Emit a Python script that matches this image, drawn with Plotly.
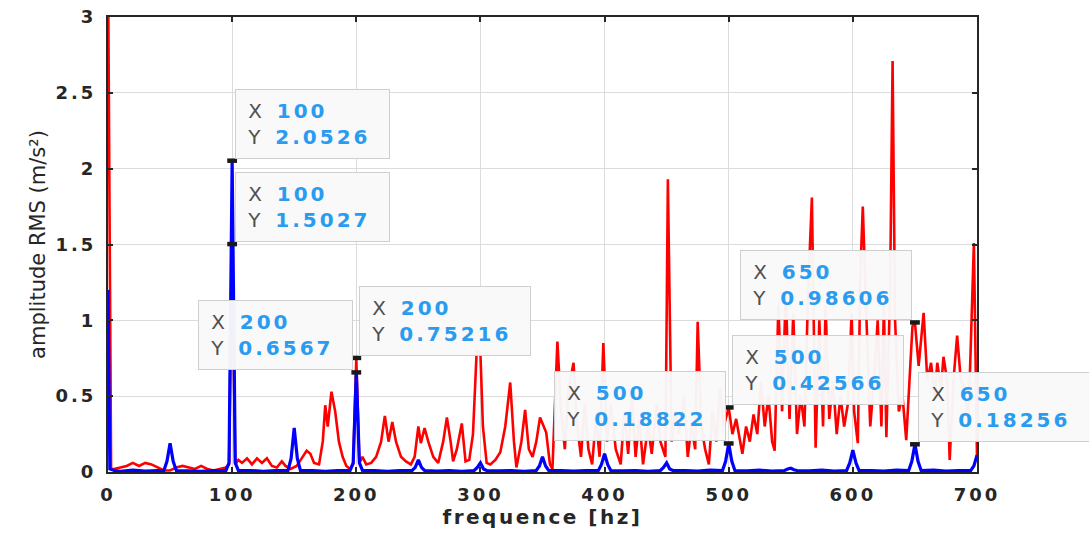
import plotly.graph_objects as go

# ---------------- data ----------------
red_freq = [0, 2.5, 5, 10, 15, 20, 25, 30, 35, 40, 45, 50, 55, 60, 65, 70, 75, 80, 85, 90, 95, 97.5,
            100, 102.5, 105, 108, 112, 116, 120, 124, 128, 132, 136, 140, 143, 147, 152, 156, 160, 163,
            166, 170, 173, 175, 177, 180, 183, 186, 189, 192, 195, 197.5, 200, 202.5, 205, 208, 212, 216,
            220, 223, 226, 229, 232, 236, 240, 244, 247, 250, 252, 255, 258, 262, 266, 270, 273, 276, 278,
            281, 285, 288, 291, 294, 297, 300, 302, 305, 308, 312, 316, 320, 324, 327, 329, 333, 336, 339,
            342, 345, 348, 351, 353, 356, 358, 362, 365, 368, 371, 375, 378, 381, 384, 387, 390, 393, 396,
            399, 402, 405, 409, 413, 416, 419, 422, 425, 428, 431, 435, 438, 442, 445, 449, 451, 454, 457,
            460, 464, 467, 470, 473, 475, 478, 481, 484, 487, 490, 493, 496, 500, 503, 506, 509, 511, 514,
            517, 520, 523, 526, 529, 532, 535, 537, 540, 543, 546, 549, 552, 555, 558, 561, 564, 567, 570,
            573, 576, 578, 581, 584, 587, 590, 593, 596, 599, 601, 604, 606, 608, 611, 614, 617, 620, 623,
            625, 627, 630, 632, 634, 637, 640, 643, 646, 648, 650, 653, 657, 660, 663, 666, 668, 671, 673,
            676, 678, 681, 684, 687, 690, 693, 697.5, 700]
red_amp = [3.4, 0.02, 0.02, 0.03, 0.04, 0.06, 0.04, 0.06, 0.05, 0.03, 0.01, 0.01, 0.03, 0.04, 0.03, 0.02,
           0.04, 0.02, 0.01, 0.02, 0.03, 0.05, 1.5027, 0.05, 0.08, 0.06, 0.09, 0.05, 0.09, 0.06, 0.09, 0.04,
           0.03, 0.07, 0.04, 0.02, 0.04, 0.09, 0.14, 0.12, 0.06, 0.05, 0.2, 0.44, 0.3, 0.53, 0.4, 0.2, 0.1,
           0.04, 0.02, 0.05, 0.75216, 0.06, 0.1, 0.05, 0.06, 0.1, 0.2, 0.37, 0.2, 0.33, 0.2, 0.1, 0.07, 0.05,
           0.1, 0.3, 0.19, 0.29, 0.2, 0.1, 0.06, 0.2, 0.36, 0.2, 0.07, 0.15, 0.32, 0.07, 0.08, 0.25, 0.8,
           0.78, 0.3, 0.06, 0.05, 0.08, 0.13, 0.3, 0.59, 0.2, 0.03, 0.2, 0.41, 0.15, 0.1, 0.2, 0.36, 0.3,
           0.26, 0.05, 0.02, 0.86, 0.4, 0.15, 0.55, 0.72, 0.3, 0.1, 0.45, 0.15, 0.05, 0.35, 0.1, 0.85, 0.2,
           0.45, 0.15, 0.05, 0.4, 0.12, 0.5, 0.1, 0.35, 0.05, 0.3, 0.12, 0.45, 0.2, 0.1, 1.93, 0.2, 0.4,
           0.25, 0.5, 0.1, 0.3, 0.15, 0.99, 0.3, 0.15, 0.05, 0.4, 0.2, 0.55, 0.3, 0.42566, 0.25, 0.35, 0.2,
           0.12, 0.3, 0.2, 0.38, 0.25, 0.6, 0.3, 0.5, 0.2, 0.14, 1.1, 0.4, 1.2, 0.35, 1.05, 0.25, 0.5, 0.3,
           1.2, 1.81, 0.16, 1.0, 0.3, 1.1, 0.35, 0.6, 0.25, 0.5, 0.3, 0.45, 1.05, 0.4, 0.19, 1.3, 1.75, 1.0,
           0.3, 0.6, 1.0, 0.3, 1.1, 0.23, 1.2, 2.71, 1.0, 0.4, 0.5, 0.21, 0.7, 0.96, 0.98606, 0.7, 1.05,
           0.6, 0.72, 0.5, 0.72, 0.55, 0.76, 0.6, 0.08, 0.6, 0.9, 0.6, 0.55, 0.3, 1.51, 0.1]

blue_freq = [0, 1.5, 5, 10, 20, 30, 40, 45, 47.5, 50, 52.5, 55, 65, 75, 85, 95, 97.5, 100, 102.5, 105,
             115, 125, 135, 145, 147.5, 150, 152.5, 155, 165, 175, 185, 195, 197.5, 200, 202.5, 205, 215,
             225, 235, 245, 247.5, 250, 252.5, 255, 265, 275, 285, 295, 297.5, 300, 302.5, 305, 315, 325,
             335, 345, 347.5, 350, 352.5, 355, 365, 375, 385, 395, 397.5, 400, 402.5, 405, 415, 425, 435,
             445, 447.5, 450, 452.5, 455, 465, 475, 485, 495, 497.5, 500, 502.5, 505, 515, 525, 535, 545,
             547.5, 550, 552.5, 555, 565, 575, 585, 595, 597.5, 600, 602.5, 605, 615, 625, 635, 645, 647.5,
             650, 652.5, 655, 665, 675, 685, 695, 697.5, 700]
blue_amp = [1.2, 0.02, 0.01, 0.005, 0.012, 0.006, 0.01, 0.01, 0.07, 0.19, 0.07, 0.01, 0.008, 0.004, 0.01,
            0.01, 0.06, 2.0526, 0.06, 0.01, 0.01, 0.005, 0.01, 0.01, 0.09, 0.29, 0.09, 0.01, 0.01, 0.005,
            0.01, 0.01, 0.06, 0.6567, 0.06, 0.01, 0.01, 0.005, 0.01, 0.01, 0.03, 0.08, 0.03, 0.01, 0.006,
            0.01, 0.005, 0.01, 0.03, 0.06, 0.02, 0.01, 0.008, 0.01, 0.005, 0.01, 0.04, 0.1, 0.04, 0.01, 0.01,
            0.006, 0.01, 0.01, 0.05, 0.12, 0.05, 0.01, 0.008, 0.01, 0.005, 0.01, 0.03, 0.06, 0.02, 0.01,
            0.01, 0.006, 0.012, 0.01, 0.07, 0.18822, 0.07, 0.01, 0.008, 0.012, 0.006, 0.01, 0.02, 0.025,
            0.015, 0.01, 0.008, 0.012, 0.006, 0.01, 0.06, 0.145, 0.06, 0.01, 0.01, 0.006, 0.012, 0.01, 0.07,
            0.18256, 0.07, 0.01, 0.012, 0.006, 0.01, 0.01, 0.04, 0.11]

# data tips (value pairs) and which side of the point the box sits on
tip_x = [100, 100, 200, 200, 500, 650, 500, 650]
tip_y = [2.0526, 1.5027, 0.6567, 0.75216, 0.18822, 0.98606, 0.42566, 0.18256]
tip_side = ["right", "right", "left", "right", "left", "left", "right", "right"]

x_ticks = [0, 100, 200, 300, 400, 500, 600, 700]
y_ticks = [0, 0.5, 1, 1.5, 2, 2.5, 3]

# ---------------- styling ----------------
AX = "#262626"
GRID = "#dcdcdc"
VAL = "#2a9cf0"
LS = "letter-spacing:3px"


def sp(txt, style):
    return "<span style='%s'>%s</span>" % (style, txt)


fig = go.Figure()
fig.add_trace(go.Scatter(x=red_freq, y=red_amp, mode="lines",
                         line=dict(color="#ff0000", width=2.6), showlegend=False))
fig.add_trace(go.Scatter(x=blue_freq, y=blue_amp, mode="lines",
                         line=dict(color="#0000ff", width=3.2), showlegend=False))
fig.add_trace(go.Scatter(x=tip_x, y=tip_y, mode="markers",
                         marker=dict(symbol="line-ew", size=7,
                                     line=dict(width=4.5, color="#1a1a1a")),
                         showlegend=False))

for xv, yv, side in zip(tip_x, tip_y, tip_side):
    ys = "%.5g" % yv
    w = 155 if len(ys) <= 6 else 172
    lab_st = "color:#505050;letter-spacing:2px"
    val_st = "color:%s;letter-spacing:3px" % VAL
    txt = ("&nbsp;" + sp("X", lab_st) + "&nbsp;&nbsp;" + "<b>" + sp(str(xv), val_st) + "</b><br>"
           + "&nbsp;" + sp("Y", lab_st) + "&nbsp;&nbsp;" + "<b>" + sp(ys, val_st) + "</b>")
    fig.add_annotation(
        x=xv, y=yv, xref="x", yref="y", showarrow=False,
        xanchor="left" if side == "right" else "right", yanchor="bottom",
        xshift=3 if side == "right" else -3, yshift=2,
        text=txt, align="left", valign="middle",
        width=w - 14, height=70 - 14, borderpad=6,
        bgcolor="rgba(249,249,249,0.97)", bordercolor="#cfcfcf", borderwidth=1,
        font=dict(family="DejaVu Sans", size=20, color="#505050"),
    )

tick_font = dict(family="DejaVu Sans", size=18, color=AX, weight="bold")

fig.update_xaxes(
    range=[0, 700], tickvals=x_ticks,
    ticktext=[sp(str(v), LS) for v in x_ticks],
    showgrid=True, gridcolor=GRID, gridwidth=1, zeroline=False,
    showline=True, linecolor=AX, linewidth=2, mirror="ticks",
    ticks="inside", ticklen=5, tickcolor=AX, tickwidth=1.5,
    tickfont=tick_font, ticklabelstandoff=5,
    title=dict(text=sp("frequence [hz]", "letter-spacing:2.5px"),
               font=dict(family="DejaVu Sans", size=20, color=AX, weight="bold"), standoff=6),
)
fig.update_yaxes(
    range=[0, 3], tickvals=y_ticks,
    ticktext=[sp("%g" % v, LS) for v in y_ticks],
    showgrid=True, gridcolor=GRID, gridwidth=1, zeroline=False,
    showline=True, linecolor=AX, linewidth=2, mirror="ticks",
    ticks="inside", ticklen=5, tickcolor=AX, tickwidth=1.5,
    tickfont=tick_font, ticklabelstandoff=6,
    title=dict(text="amplitude RMS (m/s²)",
               font=dict(family="DejaVu Sans", size=21, color=AX), standoff=4),
)

fig.update_layout(
    width=1089, height=540,
    margin=dict(l=108, r=112, t=17, b=68, autoexpand=False),
    paper_bgcolor="white", plot_bgcolor="white",
    showlegend=False,
)

fig.write_html("out.html")
